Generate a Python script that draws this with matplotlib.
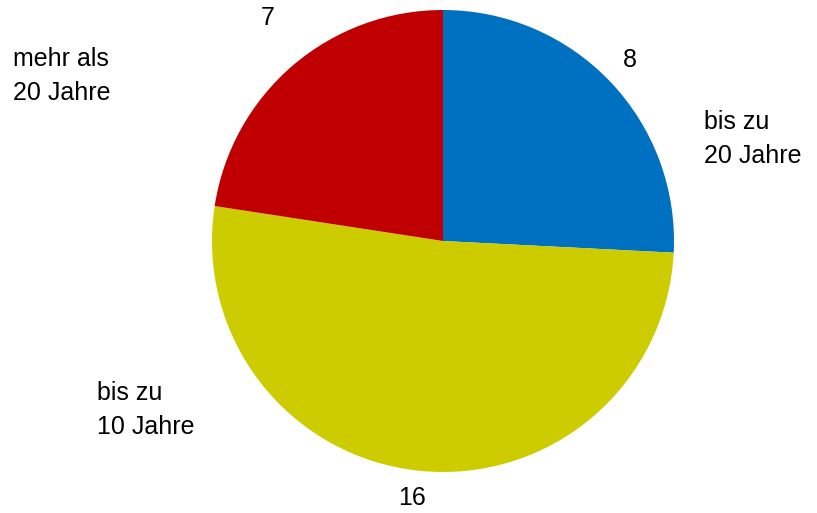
import matplotlib
matplotlib.use("Agg")
from matplotlib import pyplot as plt

werte = [8, 16, 7]
kategorien = ["bis zu\n20 Jahre", "bis zu\n10 Jahre", "mehr als\n20 Jahre"]
farben = ["#0070C0", "#CCCC00", "#C00000"]

plt.rcParams['font.family'] = ['Liberation Sans', 'DejaVu Sans']

W, H = 817, 513
fig = plt.figure(figsize=(W / 100, H / 100), dpi=100)
cx, cy, r = 443, 241, 231
ax = fig.add_axes([(cx - r) / W, (H - cy - r) / H, 2 * r / W, 2 * r / H])
ax.pie(werte, colors=farben, startangle=90, counterclock=False, radius=1.0,
       wedgeprops=dict(linewidth=0))
ax.set_xlim(-1, 1)
ax.set_ylim(-1, 1)
ax.set_aspect('equal')
ax.axis('off')

# Beschriftungen (Pixelpositionen aus der Vorlage)
zahl_pos = [(630, 60), (412, 498), (268, 18)]
kat_pos = [(704, 139), (97, 410), (13, 76)]
for w, k, (zx, zy), (kx, ky) in zip(werte, kategorien, zahl_pos, kat_pos):
    fig.text(zx / W, 1 - zy / H, str(w), fontsize=18, ha='center', va='center')
    fig.text(kx / W, 1 - ky / H, k, fontsize=18, ha='left', va='center',
             linespacing=1.5)

fig.savefig("out.png", dpi=100)
